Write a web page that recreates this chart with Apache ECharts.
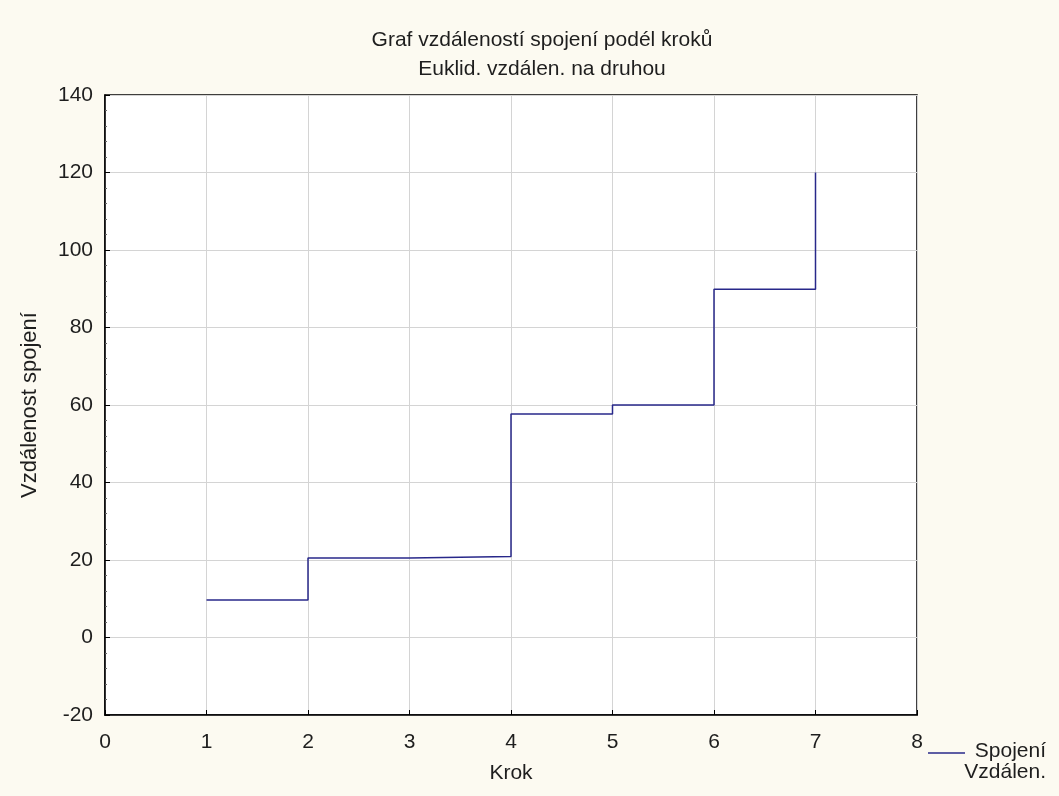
<!DOCTYPE html>
<html><head><meta charset="utf-8">
<script src="https://cdn.jsdelivr.net/npm/echarts@6/dist/echarts.min.js"></script>
<style>html,body{margin:0;padding:0;background:#fcfaf1;}#c{width:1059px;height:796px;}</style>
</head><body><div id="c"></div>
<script>
const steps = [1, 2, 3, 4, 5, 6, 7];
const distances = [9.7, 20.5, 20.9, 57.7, 60.0, 89.9, 120.0];
const xTicks = [0, 1, 2, 3, 4, 5, 6, 7, 8];
const yTicks = [-20, 0, 20, 40, 60, 80, 100, 120, 140];
const legendLines = ['Spojení', 'Vzdálen.'];

const font = '"Liberation Sans", Arial, sans-serif';
const lineColor = '#28288a';
const chart = echarts.init(document.getElementById('c'));
chart.setOption({
  backgroundColor: '#fcfaf1',
  animation: false,
  title: {
    text: 'Graf vzdáleností spojení podél kroků\nEuklid. vzdálen. na druhou',
    left: 537, top: 21, textAlign: 'center',
    textStyle: { fontFamily: font, fontSize: 21, fontWeight: 'normal', color: '#1e1e1e', lineHeight: 29 }
  },
  grid: { left: 105, right: 142, top: 95, bottom: 81, show: true, backgroundColor: '#ffffff', borderColor: '#000', borderWidth: 1.5 },
  xAxis: {
    type: 'value', min: xTicks[0], max: xTicks[xTicks.length - 1], interval: 1,
    name: 'Krok', nameLocation: 'middle', nameGap: 48,
    nameTextStyle: { fontFamily: font, fontSize: 21, color: '#1e1e1e' },
    axisLine: { show: true, onZero: false, lineStyle: { color: '#000', width: 1.5 } },
    axisTick: { show: true, inside: true, length: 5, lineStyle: { color: '#000' } },
    axisLabel: { fontFamily: font, fontSize: 21, color: '#1e1e1e', margin: 17 },
    splitLine: { show: true, lineStyle: { color: '#d4d4d4', width: 1 } }
  },
  yAxis: {
    type: 'value', min: yTicks[0], max: yTicks[yTicks.length - 1], interval: 20,
    name: 'Vzdálenost spojení', nameLocation: 'middle', nameGap: 64, nameRotate: 90,
    nameTextStyle: { fontFamily: font, fontSize: 22, color: '#1e1e1e' },
    axisLine: { show: true, onZero: false, lineStyle: { color: '#000', width: 1.5 } },
    axisTick: { show: true, inside: true, length: 5, lineStyle: { color: '#000' } },
    minorTick: { show: true, splitNumber: 5, length: 2, lineStyle: { color: '#666' } },
    axisLabel: { fontFamily: font, fontSize: 21, color: '#1e1e1e', margin: 12 },
    splitLine: { show: true, lineStyle: { color: '#d4d4d4', width: 1 } }
  },
  graphic: [
    { type: 'line', shape: { x1: 928, y1: 753, x2: 965, y2: 753 }, style: { stroke: lineColor, lineWidth: 1.5 } },
    { type: 'text', x: 1046, y: 741, style: { text: legendLines.join('\n'), font: '21px "Liberation Sans", Arial, sans-serif', fill: '#1e1e1e', textAlign: 'right', lineHeight: 21 } }
  ],
  series: [{
    name: legendLines.join(' '), type: 'line', step: 'end', symbol: 'none',
    data: steps.map((s, i) => [s, distances[i]]),
    lineStyle: { color: lineColor, width: 1.5 },
    itemStyle: { color: lineColor }
  }]
});
</script></body></html>
